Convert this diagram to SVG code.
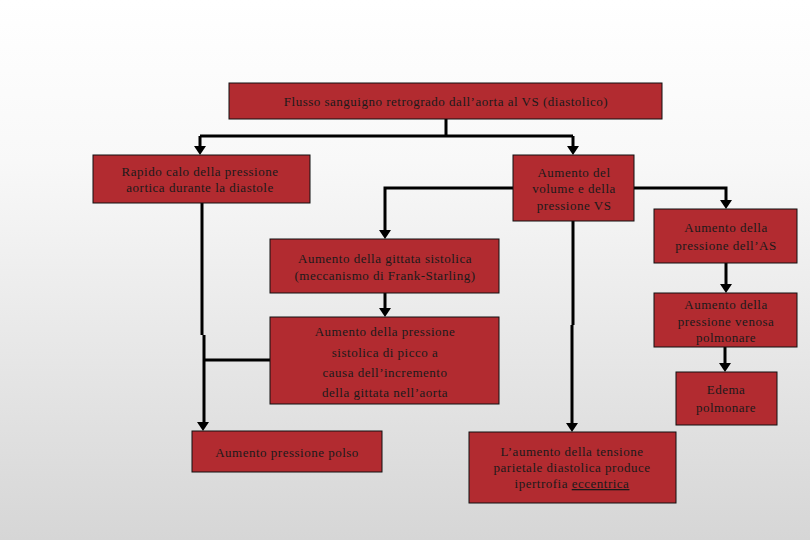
<svg xmlns="http://www.w3.org/2000/svg" width="810" height="540" viewBox="0 0 810 540">
<defs>
<linearGradient id="bg" x1="0" y1="0" x2="0" y2="1">
<stop offset="0" stop-color="#ffffff"/>
<stop offset="0.3" stop-color="#f8f8f8"/>
<stop offset="1" stop-color="#d6d6d6"/>
</linearGradient>
<style>
.box{fill:#b22b30;stroke:#111;stroke-width:1}
.t{font-family:"Liberation Serif","Times New Roman",serif;font-size:13px;fill:#1a1a1a;text-anchor:middle;letter-spacing:0.5px}
.c{fill:none;stroke:#000;stroke-width:3}
</style>
</defs>
<rect width="810" height="540" fill="url(#bg)"/>
<g id="connectors">
<path class="c" d="M446,119 V136 M200,136 H573"/>
<path d="M200,136 V147" class="c"/>
<path d="M194,146 L206,146 L200,155 Z"/>
<path d="M573,136 V147" class="c"/>
<path d="M567,146 L579,146 L573,155 Z"/>
<path class="c" d="M513,188 H385 V231"/>
<path d="M379,230 L391,230 L385,239 Z"/>
<path class="c" d="M634,188 H726 V201"/>
<path d="M720,200 L732,200 L726,209 Z"/>
<path class="c" d="M385,293 V309"/>
<path d="M379,308 L391,308 L385,317 Z"/>
<path class="c" d="M202,203 V335 M204,335 V423 M204,360 H270"/>
<path d="M197,422 L209,422 L203,431 Z"/>
<path class="c" d="M573,221 V325 M572,325 V424"/>
<path d="M566,423 L578,423 L572,432 Z"/>
<path class="c" d="M726,263 V285"/>
<path d="M720,284 L732,284 L726,293 Z"/>
<path class="c" d="M725,347 V364"/>
<path d="M719,363 L731,363 L725,372 Z"/>
</g>
<g id="n1"><rect class="box" x="229" y="83" width="433" height="36"/>
<text class="t" x="446" y="106">Flusso sanguigno retrogrado dall’aorta al VS (diastolico)</text></g>
<g id="n2"><rect class="box" x="93" y="155" width="217" height="48"/>
<text class="t" x="200" y="176">Rapido calo  della pressione</text>
<text class="t" x="200" y="192">aortica  durante la diastole</text></g>
<g id="n3"><rect class="box" x="513" y="155" width="121" height="66"/>
<text class="t" x="574" y="177">Aumento del</text>
<text class="t" x="574" y="193">volume e della</text>
<text class="t" x="574" y="210">pressione VS</text></g>
<g id="n4"><rect class="box" x="270" y="239" width="229" height="54"/>
<text class="t" x="385" y="263">Aumento della gittata sistolica</text>
<text class="t" x="385" y="280">(meccanismo di Frank-Starling)</text></g>
<g id="n5"><rect class="box" x="654" y="209" width="143" height="54"/>
<text class="t" x="726" y="232">Aumento della</text>
<text class="t" x="726" y="250">pressione dell’AS</text></g>
<g id="n6"><rect class="box" x="270" y="317" width="229" height="87"/>
<text class="t" x="385" y="336">Aumento della pressione</text>
<text class="t" x="385" y="357">sistolica di picco  a</text>
<text class="t" x="385" y="377">causa dell’incremento</text>
<text class="t" x="385" y="397">della gittata nell’aorta</text></g>
<g id="n7"><rect class="box" x="654" y="293" width="143" height="54"/>
<text class="t" x="726" y="309">Aumento della</text>
<text class="t" x="726" y="326">pressione venosa</text>
<text class="t" x="726" y="342">polmonare</text></g>
<g id="n8"><rect class="box" x="676" y="372" width="101" height="53"/>
<text class="t" x="726" y="394">Edema</text>
<text class="t" x="726" y="412">polmonare</text></g>
<g id="n9"><rect class="box" x="192" y="431" width="190" height="41"/>
<text class="t" x="287" y="457">Aumento pressione polso</text></g>
<g id="n10"><rect class="box" x="469" y="432" width="207" height="71"/>
<text class="t" x="572" y="456">L’aumento della tensione</text>
<text class="t" x="572" y="472">parietale diastolica produce</text>
<text class="t" x="572" y="488">ipertrofia <tspan text-decoration="underline">eccentrica</tspan></text></g>
</svg>
